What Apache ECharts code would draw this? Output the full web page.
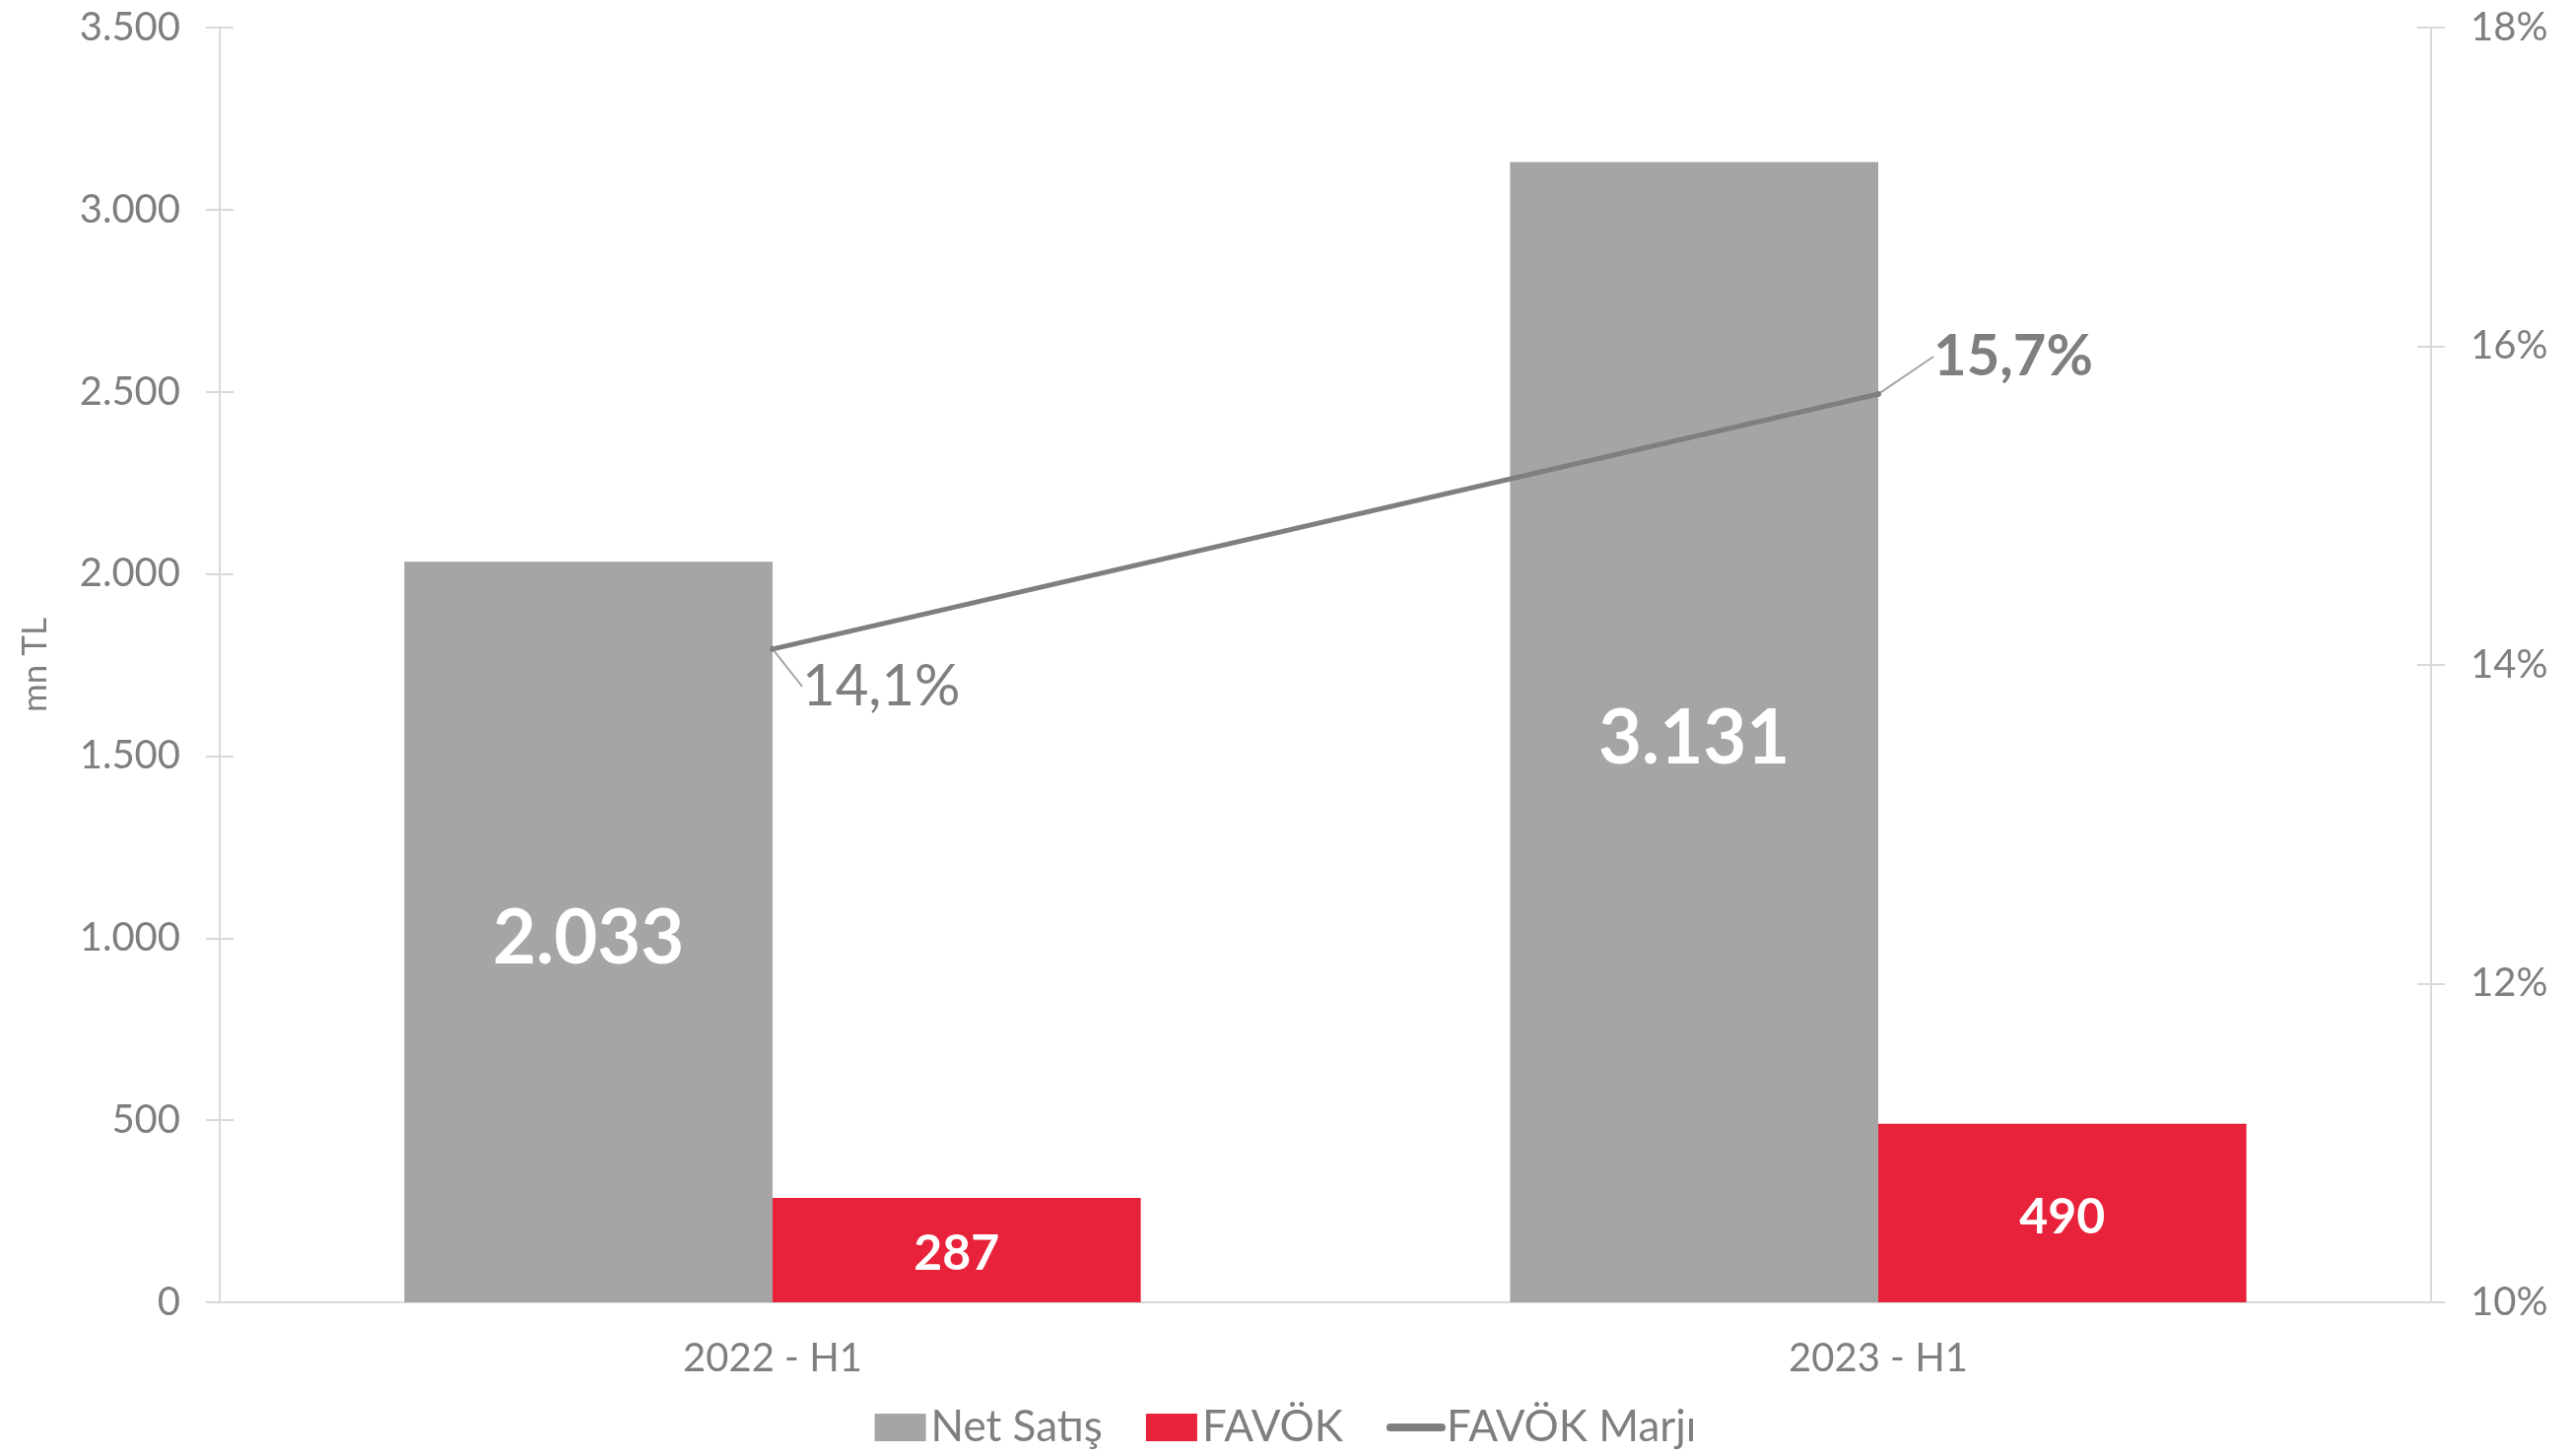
<!DOCTYPE html>
<html lang="tr">
<head>
    <meta charset="UTF-8">
    <title>Net Satış / FAVÖK</title>
    <script src="https://cdn.jsdelivr.net/npm/echarts@6/dist/echarts.min.js"></script>
    <style>
        html, body { margin: 0; padding: 0; background: #fff; }
        #main { width: 2609px; height: 1478px; }
    </style>
</head>
<body>
<div id="main"></div>

<script type="text/javascript">
    // veriler
    var donemler = ['2022 - H1', '2023 - H1'];
    var netSatis = [2033, 3131];
    var favok = [287, 490];
    var favokMarji = [14.1, 15.7];

    // eksen aralıkları
    var solMin = 0, solMax = 3500, solAralik = 500;
    var sagMin = 10, sagMax = 18, sagAralik = 2;

    var gri = '#7f7f7f';
    var eksenRenk = '#d9d9d9';
    var yazi = 'Lato, "Open Sans", sans-serif';

    // sayıyı 2.033 biçiminde yaz
    function binlik(v) {
        return String(v).replace(/\B(?=(\d{3})+(?!\d))/g, '.');
    }

    var myChart = echarts.init(document.getElementById('main'));

    var option = {
        animation: false,
        grid: { left: 223, right: 142, top: 28, bottom: 156 },
        legend: {
            bottom: 2,
            left: 'center',
            itemGap: 44,
            itemWidth: 52,
            itemHeight: 28,
            textStyle: { color: gri, fontSize: 44, fontFamily: yazi },
            data: [
                { name: 'Net Satış', icon: 'rect' },
                { name: 'FAVÖK', icon: 'rect' },
                { name: 'FAVÖK Marjı', itemStyle: { opacity: 0 }, lineStyle: { width: 8, cap: 'round' } }
            ]
        },
        xAxis: {
            type: 'category',
            data: donemler,
            axisLine: { lineStyle: { color: eksenRenk, width: 2 } },
            axisTick: { show: false },
            axisLabel: { color: gri, fontSize: 40, fontFamily: yazi, margin: 37 }
        },
        yAxis: [
            {
                type: 'value',
                min: solMin, max: solMax, interval: solAralik,
                name: 'mn TL',
                nameLocation: 'middle',
                nameGap: 170,
                nameTextStyle: { color: gri, fontSize: 35, fontFamily: yazi },
                splitLine: { show: false },
                axisLine: { show: true, lineStyle: { color: eksenRenk, width: 2 } },
                axisTick: { show: true, length: 14, lineStyle: { color: eksenRenk, width: 2 } },
                axisLabel: {
                    color: gri, fontSize: 40, fontFamily: yazi, margin: 40,
                    formatter: function (v) { return binlik(v); }
                }
            },
            {
                type: 'value',
                min: sagMin, max: sagMax, interval: sagAralik,
                position: 'right',
                splitLine: { show: false },
                axisLine: { show: true, lineStyle: { color: eksenRenk, width: 2 } },
                axisTick: { show: true, length: 14, lineStyle: { color: eksenRenk, width: 2 } },
                axisLabel: {
                    color: gri, fontSize: 40, fontFamily: yazi, margin: 40,
                    formatter: '{value}%'
                }
            },
            // içe doğru tik çizgileri için boş eksenler
            {
                type: 'value',
                min: solMin, max: solMax, interval: solAralik,
                position: 'left',
                splitLine: { show: false },
                axisLine: { show: false },
                axisTick: { show: true, inside: true, length: 14, lineStyle: { color: eksenRenk, width: 2 } },
                axisLabel: { show: false }
            },
            {
                type: 'value',
                min: sagMin, max: sagMax, interval: sagAralik,
                position: 'right',
                splitLine: { show: false },
                axisLine: { show: false },
                axisTick: { show: true, inside: true, length: 14, lineStyle: { color: eksenRenk, width: 2 } },
                axisLabel: { show: false }
            }
        ],
        series: [
            {
                name: 'Net Satış',
                type: 'bar',
                data: netSatis,
                barWidth: '33.3%',
                barGap: '0%',
                itemStyle: { color: '#a5a5a5' },
                label: {
                    show: true,
                    position: 'inside',
                    offset: [0, 7],
                    color: '#fff',
                    fontSize: 76,
                    fontWeight: 'bold',
                    fontFamily: yazi,
                    formatter: function (p) { return binlik(p.value); }
                }
            },
            {
                name: 'FAVÖK',
                type: 'bar',
                data: favok,
                barWidth: '33.3%',
                itemStyle: { color: '#e8223a' },
                label: {
                    show: true,
                    position: 'inside',
                    offset: [0, 4],
                    color: '#fff',
                    fontSize: 50,
                    fontWeight: 'bold',
                    fontFamily: yazi
                }
            },
            {
                name: 'FAVÖK Marjı',
                type: 'line',
                yAxisIndex: 1,
                data: favokMarji,
                symbol: 'circle',
                symbolSize: 6,
                itemStyle: { color: gri },
                lineStyle: { color: gri, width: 5, cap: 'round' },
                label: {
                    show: true,
                    position: 'right',
                    color: gri,
                    fontSize: 58,
                    fontFamily: yazi,
                    formatter: function (p) { return String(p.value).replace('.', ',') + '%'; }
                },
                labelLine: {
                    show: true,
                    lineStyle: { color: '#a6a6a6', width: 2 }
                },
                labelLayout: function (p) {
                    if (p.dataIndex === 0) {
                        return { dx: 22, dy: 38 };
                    }
                    return { dx: 48, dy: -38 };
                }
            }
        ]
    };

    // ikinci etiket kalın
    option.series[2].data = favokMarji.map(function (v, i) {
        if (i === 1) {
            return { value: v, label: { fontWeight: 'bold' } };
        }
        return v;
    });

    myChart.setOption(option);
</script>
</body>
</html>
